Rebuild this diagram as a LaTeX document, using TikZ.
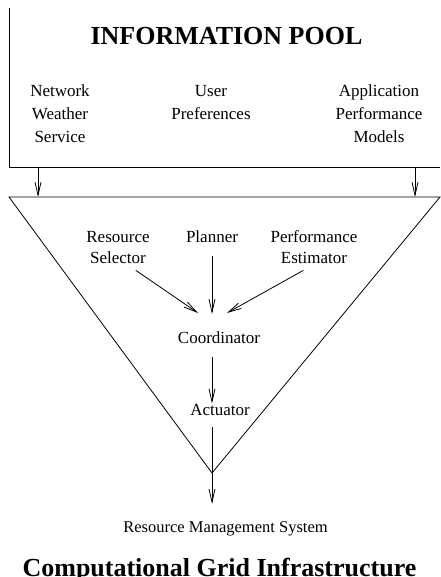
\documentclass[tikz,border=0pt]{standalone}
\usepackage{fontspec}
\setmainfont{Liberation Serif}
\usetikzlibrary{arrows.meta}

\begin{document}
\begin{tikzpicture}[
  x=1pt,y=-1pt,
  every node/.style={align=center,inner sep=0pt,anchor=base},
  label/.style={font=\fontsize{17}{23}\selectfont},
  heading/.style={font=\fontsize{26}{30}\selectfont\bfseries},
  frame/.style={line width=0.8pt},
  to/.style={->,>={Straight Barb[length=13pt,width=6pt]},line width=0.8pt}]

  \useasboundingbox (0,0) rectangle (440,577);

  % Information pool (box runs off the right edge)
  \draw[frame] (9,8) -- (9,167) -- (440,167);
  \node[heading] (pool) at (226.5,45) {INFORMATION POOL};
  \node[label] (nws) at (60,143) {Network\\Weather\\Service};
  \node[label] (prefs) at (211,120) {User\\Preferences};
  \node[label] (apm) at (379,143) {Application\\Performance\\Models};

  % Funnel of the resource management system
  \coordinate (apex) at (212,473);
  \draw[frame] (9,197) -- (440,197) -- (apex) -- cycle;
  \node[label,font=\fontsize{17}{21}\selectfont] (selector) at (118,263) {Resource\\Selector};
  \node[label] (planner) at (212,242) {Planner};
  \node[label,font=\fontsize{17}{21}\selectfont] (estimator) at (314,263) {Performance\\Estimator};
  \node[label] (coord) at (219,343) {Coordinator};
  \node[label] (actuator) at (220,415) {Actuator};
  \node[label,font=\fontsize{16.5}{20}\selectfont] (rms) at (225.5,532) {Resource Management System};
  \node[heading] (grid) at (219.5,576) {Computational Grid Infrastructure};

  % Arrow ends
  \coordinate (pool-l) at (38,167);
  \coordinate (pool-r) at (415,167);
  \coordinate (hub) at (212,314);

  % Connections
  \draw[to] (pool-l) -- (pool-l |- 0,197);
  \draw[to] (pool-r) -- (pool-r |- 0,197);
  \draw[to] (selector.south east) ++(-14,7) -- (198,313);
  \draw[to] (planner.south) ++(0,14) -- (hub);
  \draw[to] (estimator.south west) ++(33,7) -- (227,313);
  \draw[to] (coord.south -| apex) ++(0,14) -- (actuator.north -| apex);
  \draw[to] (actuator.south -| apex) ++(0,12) -- ([yshift=17pt]rms.north -| apex);
\end{tikzpicture}
\end{document}
